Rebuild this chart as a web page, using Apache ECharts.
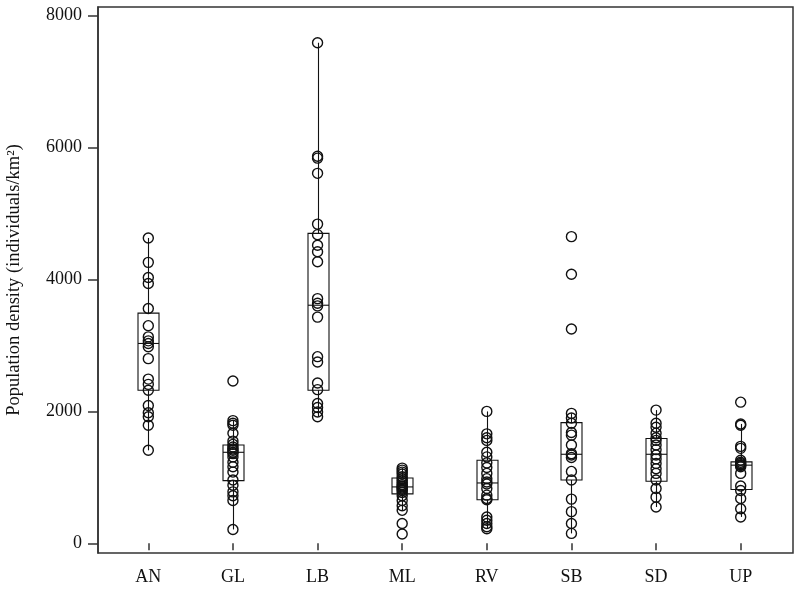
<!DOCTYPE html>
<html>
<head>
<meta charset="utf-8">
<script src="https://cdn.jsdelivr.net/npm/echarts@6/dist/echarts.min.js"></script>
<style>
html,body{margin:0;padding:0;background:#fff;}
#chart{width:800px;height:592px;}
</style>
</head>
<body>
<div id="chart"></div>
<script>
// ---- Data ----
var categories = ['AN', 'GL', 'LB', 'ML', 'RV', 'SB', 'SD', 'UP'];
var yTicks = [0, 2000, 4000, 6000, 8000];

var valuesAN = [4630, 4260, 4030, 3940, 3560, 3300, 3130, 3070, 3030, 2980, 2800, 2490, 2410, 2320, 2090, 1980, 1920, 1790, 1410];
var valuesGL = [2460, 1860, 1820, 1790, 1670, 1550, 1500, 1460, 1430, 1410, 1380, 1360, 1310, 1230, 1160, 1080, 960, 880, 780, 720, 650, 210];
var valuesLB = [7590, 5870, 5840, 5610, 4840, 4680, 4520, 4420, 4270, 3710, 3640, 3600, 3430, 2830, 2750, 2430, 2330, 2120, 2060, 1990, 1920];
var valuesML = [1140, 1110, 1080, 1050, 1010, 980, 950, 920, 890, 870, 855, 840, 820, 800, 770, 720, 650, 570, 500, 300, 140];
var valuesRV = [2000, 1660, 1600, 1560, 1380, 1310, 1220, 1150, 1060, 980, 930, 900, 830, 730, 680, 660, 400, 350, 300, 250, 220];
var valuesSB = [4650, 4080, 3250, 1970, 1900, 1820, 1680, 1640, 1490, 1360, 1340, 1300, 1090, 960, 670, 480, 300, 150];
var valuesSD = [2020, 1820, 1760, 1670, 1600, 1560, 1490, 1420, 1340, 1280, 1210, 1130, 1060, 960, 830, 700, 550];
var valuesUP = [2140, 1810, 1790, 1470, 1440, 1260, 1230, 1210, 1190, 1180, 1160, 1060, 870, 800, 680, 525, 400];

var whiskerLow  = [1410, 210, 1920, 500, 220, 150, 550, 400];
var quartile1   = [2320, 950, 2320, 750, 660, 960, 940, 815];
var medians     = [3030, 1380, 3610, 855, 915, 1350, 1350, 1185];
var quartile3   = [3490, 1490, 4700, 990, 1260, 1830, 1590, 1235];
var whiskerHigh = [4630, 1860, 7590, 1140, 2000, 1970, 2020, 1810];

// ---- Build library structures ----
var allValues = [valuesAN, valuesGL, valuesLB, valuesML, valuesRV, valuesSB, valuesSD, valuesUP];
var scatterData = [];
allValues.forEach(function (arr, i) {
  arr.forEach(function (v) { scatterData.push([i, v]); });
});
var boxData = categories.map(function (c, i) {
  return [i, whiskerLow[i], quartile1[i], medians[i], quartile3[i], whiskerHigh[i]];
});

var Y_MIN = -147, Y_MAX = 8132;
var FONT = '"Liberation Serif", "DejaVu Serif", serif';
var INK = '#111';

var chart = echarts.init(document.getElementById('chart'), null, {renderer: 'canvas'});

function renderBox(params, api) {
  var x = api.value(0);
  var pLow = api.coord([x, api.value(1)]);
  var pQ1 = api.coord([x, api.value(2)]);
  var pMed = api.coord([x, api.value(3)]);
  var pQ3 = api.coord([x, api.value(4)]);
  var pHigh = api.coord([x, api.value(5)]);
  var hw = 10.5;
  var cx = Math.round(pLow[0]) + 0.5;
  var style = {stroke: INK, lineWidth: 1.1, fill: null};
  return {
    type: 'group',
    children: [
      {type: 'line', shape: {x1: cx, y1: pHigh[1], x2: cx, y2: pQ3[1]}, style: style},
      {type: 'line', shape: {x1: cx, y1: pQ1[1], x2: cx, y2: pLow[1]}, style: style},
      {type: 'rect', shape: {x: cx - hw, y: pQ3[1], width: 2 * hw, height: pQ1[1] - pQ3[1]}, style: style},
      {type: 'line', shape: {x1: cx - hw, y1: pMed[1], x2: cx + hw, y2: pMed[1]}, style: style}
    ]
  };
}

var option = {
  backgroundColor: '#fff',
  animation: false,
  grid: [
    {left: 106, right: 17, top: 7, bottom: 39, containLabel: false, outerBoundsMode: 'none'},
    {left: 98, right: 7, top: 7, bottom: 39, containLabel: false, outerBoundsMode: 'none',
     show: true, borderColor: '#333', borderWidth: 1.5, backgroundColor: 'transparent'}
  ],
  xAxis: [
    {
      type: 'category', gridIndex: 0, data: categories, boundaryGap: true,
      axisLine: {show: false},
      axisTick: {show: true, alignWithLabel: true, inside: false, length: 7, lineStyle: {color: '#333', width: 1.5}},
      axisLabel: {color: INK, fontFamily: FONT, fontSize: 18, margin: 15},
      splitLine: {show: false}
    },
    {type: 'value', gridIndex: 1, show: false, min: 0, max: 1}
  ],
  yAxis: [
    {type: 'value', gridIndex: 0, show: false, min: Y_MIN, max: Y_MAX, splitLine: {show: false}},
    {
      type: 'value', gridIndex: 1, min: Y_MIN, max: Y_MAX,
      name: 'Population density (individuals/km²)', nameLocation: 'middle', nameGap: 74,
      nameTextStyle: {color: INK, fontFamily: FONT, fontSize: 18.5},
      axisLine: {show: true, lineStyle: {color: '#333', width: 1.5}},
      axisTick: {show: true, length: 10, customValues: yTicks, lineStyle: {color: '#333', width: 1.5}},
      axisLabel: {
        show: true, customValues: yTicks, color: INK, fontFamily: FONT, fontSize: 18, margin: 16,
        formatter: function (v) { return String(v); }
      },
      splitLine: {show: false}
    }
  ],
  series: [
    {
      type: 'custom', xAxisIndex: 0, yAxisIndex: 0,
      renderItem: renderBox,
      encode: {x: 0, y: [1, 2, 3, 4, 5]},
      data: boxData, z: 2
    },
    {
      type: 'scatter', xAxisIndex: 0, yAxisIndex: 0,
      symbol: 'circle', symbolSize: 10,
      itemStyle: {color: 'rgba(0,0,0,0)', borderColor: INK, borderWidth: 1.4, opacity: 1},
      data: scatterData, z: 3
    }
  ]
};
chart.setOption(option);
</script>
</body>
</html>
